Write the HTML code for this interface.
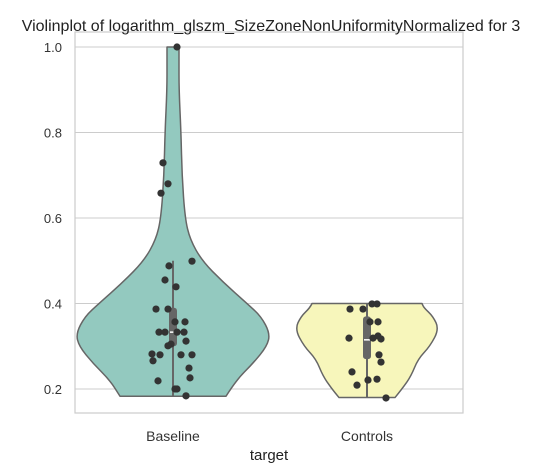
<!DOCTYPE html>
<html><head><meta charset="utf-8"><style>
body{margin:0;background:#fff;font-family:"Liberation Sans",sans-serif}
svg{display:block}
</style></head><body>
<svg width="539" height="473" id="c"></svg>
<script>
const categories=["Baseline","Controls"];
const yTicks=[0.2,0.4,0.6,0.8,1.0];
const baselineShape=[[0.183,53],[0.22,63],[0.26,80],[0.3,94],[0.33,97],[0.37,88],[0.4,74],[0.45,50],[0.5,29],[0.55,17],[0.6,12],[0.7,9],[0.8,8],[0.9,6],[0.97,6],[1.0,6]];
const controlsShape=[[0.18,28],[0.2,35],[0.23,44],[0.27,51],[0.3,63],[0.34,72],[0.37,66],[0.39,57],[0.4,55]];
const baselineValues=[0.488,0.499,0.455,0.439,0.387,0.387,0.357,0.357,0.333,0.333,0.333,0.333,0.312,0.305,0.301,0.282,0.280,0.266,0.280,0.280,0.249,0.226,0.219,0.2,0.2,0.184,1.0,0.729,0.658,0.680];
const baselineJitter=[-4,19,-8,3,-17,-5,2,12,-14,-8,4,11,13,-2,-5,-21,-13,-20,8,19,16,17,-15,2,4,13,4,-10,-12,-5];
const controlsValues=[0.387,0.387,0.399,0.399,0.357,0.357,0.319,0.319,0.324,0.317,0.280,0.263,0.240,0.221,0.223,0.209,0.179];
const controlsJitter=[-17,-4,5,10,3,11,-18,6,11,14,12,14,-15,1,10,-10,19];
const boxes=[[0.183,0.3,0.333,0.39,0.5],[0.18,0.27,0.315,0.37,0.4]];
const shapes=[baselineShape,controlsShape],vals=[baselineValues,controlsValues],jit=[baselineJitter,controlsJitter];
const fills=["#93c9bf","#f7f6bb"];
const X0=75,X1=463,Y0=32,Y1=413;
const y=v=>389-(v-0.2)*427.5;
const x=i=>173+i*194;
const s=document.getElementById('c'),NS="http://www.w3.org/2000/svg";
function el(t,a,txt){const e=document.createElementNS(NS,t);for(const k in a)e.setAttribute(k,a[k]);if(txt!=null)e.textContent=txt;s.appendChild(e);return e;}
function smooth(pts){let d="M"+pts[0].join(",");for(let k=1;k<pts.length-1;k++){const mx=(pts[k][0]+pts[k+1][0])/2,my=(pts[k][1]+pts[k+1][1])/2;d+=" Q"+pts[k].join(",")+" "+mx+","+my;}d+=" L"+pts[pts.length-1].join(",");return d;}
yTicks.forEach(t=>{
 const g=el('line',{x1:X0,x2:X1,y1:y(t),y2:y(t),stroke:'#ccc','stroke-width':1});
 
 const l=el('text',{x:62,y:y(t)+5,'text-anchor':'end','font-size':13,fill:'#333'},t.toFixed(1));
 
});
const fr=el('rect',{x:X0,y:Y0,width:X1-X0,height:Y1-Y0,fill:'none',stroke:'#ccc','stroke-width':1.2});

shapes.forEach((sh,i)=>{
 const cx=x(i);
 const r=sh.map(p=>[cx+p[1],y(p[0])]);
 const l=sh.slice().reverse().map(p=>[cx-p[1],y(p[0])]);
 const d=smooth(r)+" L"+l[0].join(",")+" "+smooth(l).slice(1).replace(/^[^ ]+/,"")+" L"+l[l.length-1].join(",")+"Z";
 const p=el('path',{d:d,fill:fills[i],stroke:'#666','stroke-width':1.5,'stroke-linejoin':'round'});
 
 const b=boxes[i];
 const w=el('line',{x1:cx,x2:cx,y1:y(b[0]),y2:y(b[4]),stroke:'#666','stroke-width':2});
 
 const bx=el('rect',{x:cx-4,y:y(b[3]),width:8,height:y(b[1])-y(b[3]),rx:3,fill:'#666'});
 
 const m=el('line',{x1:cx-3,x2:cx+3,y1:y(b[2]),y2:y(b[2]),stroke:'#fff','stroke-width':1.5});
 
 const lb=el('text',{x:cx,y:441,'text-anchor':'middle','font-size':14,fill:'#333'},categories[i]);
 
});
vals.forEach((vs,i)=>vs.forEach((v,k)=>{
 const c=el('circle',{cx:x(i)+jit[i][k],cy:y(v),r:3.6,fill:'#333'});
 
}));
const t=el('text',{x:271,y:31,'text-anchor':'middle','font-size':16,fill:'#222'},'Violinplot of logarithm_glszm_SizeZoneNonUniformityNormalized for 3');

const xt=el('text',{x:269,y:460,'text-anchor':'middle','font-size':15,fill:'#222'},'target');

</script>
</body></html>
